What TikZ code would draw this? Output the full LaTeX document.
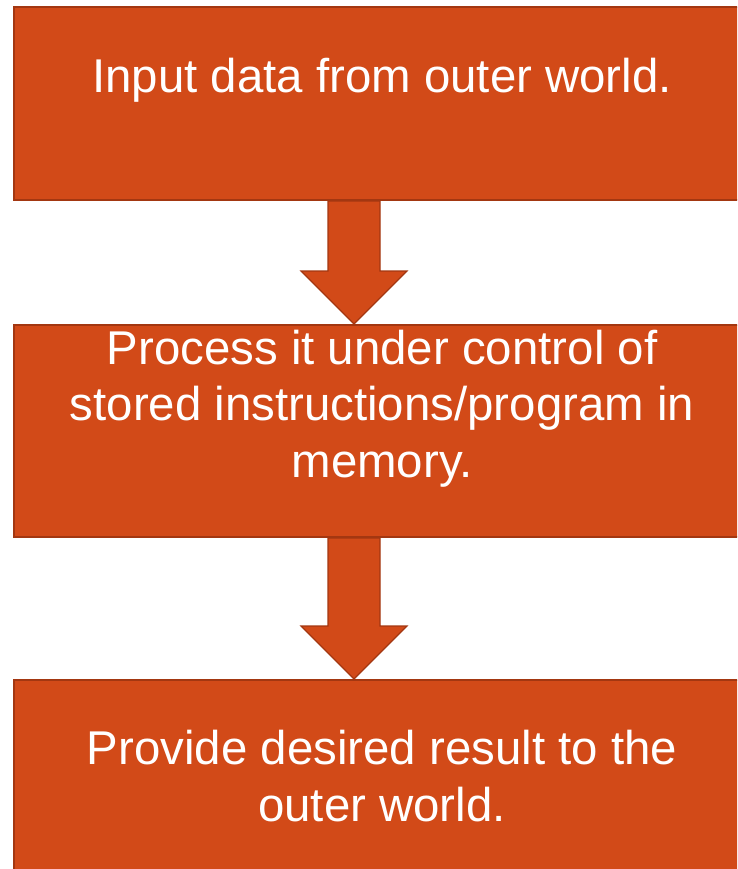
\documentclass[tikz,border=0pt]{standalone}
\usepackage{fontspec}
\setmainfont{Liberation Sans}
\usetikzlibrary{calc}
\definecolor{boxfill}{RGB}{210,74,24}
\definecolor{boxline}{RGB}{163,55,17}
\begin{document}
\begin{tikzpicture}[
    x=1pt, y=-1pt,
    stepbox/.style={rectangle, draw=boxline, line width=2pt, fill=boxfill, minimum width=736pt, inner sep=0pt},
    boxtext/.style={anchor=base, align=center, text=white, inner sep=0pt, font=\fontsize{47.4}{56.5}\selectfont},
    flowarrow/.style={draw=boxline, line width=1.2pt, fill=boxfill, line join=miter}
  ]
    \useasboundingbox (0,0) rectangle (737,869);
    \clip (0,0) rectangle (737,869);

    % Boxes
    \node[stepbox, minimum height=193pt] (input) at (382,103.5) {};
    \node[stepbox, minimum height=212pt] (process) at (382,431) {};
    \node[stepbox, minimum height=210pt] (result) at (382,785) {};

    % Arrows
    \foreach \from/\to in {input/process, process/result} {
      \coordinate (a) at ([xshift=-28pt]\from.south);
      \coordinate (b) at ([xshift=-28pt]\to.north);
      \draw[flowarrow] ([xshift=-26pt]a) -- ([xshift=-26pt, yshift=53pt]b)
        -- ([xshift=-53pt, yshift=53pt]b) -- (b)
        -- ([xshift=53pt, yshift=53pt]b) -- ([xshift=26pt, yshift=53pt]b)
        -- ([xshift=26pt]a) -- cycle;
    }

    % Texts (base = last line)
    \node[boxtext] (inputtext) at (382,93) {Input data from outer world.};
    \node[boxtext] (processtext) at (382,477) {Process it under control of\\stored instructions/program in\\memory.};
    \node[boxtext] (resulttext) at (382,821) {Provide desired result to the\\outer world.};
  \end{tikzpicture}
\end{document}
